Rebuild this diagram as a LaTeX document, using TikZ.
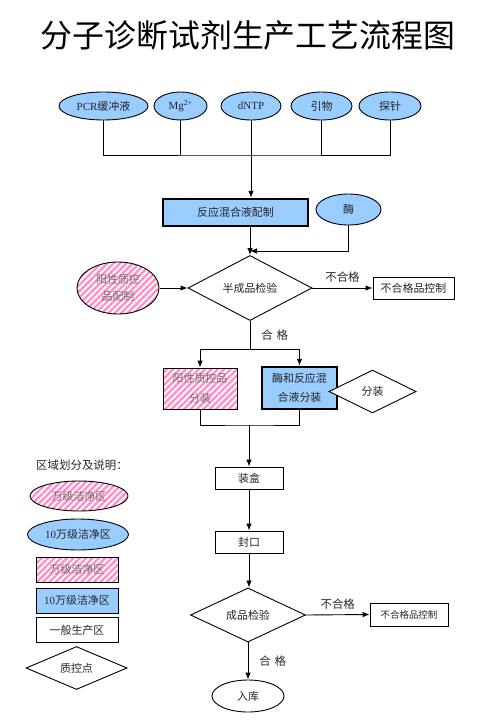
\documentclass[tikz,border=0pt]{standalone}
\usepackage{fontspec}
\setmainfont{Liberation Serif}
\newfontfamily\cjk{Noto Sans CJK SC}
\usetikzlibrary{shapes.geometric,patterns.meta,arrows.meta}

\definecolor{zoneblue}{HTML}{99CCFF}
\definecolor{zonepink}{HTML}{FF8FC8}

\tikzset{
  base/.style={draw, line width=0.9bp, inner sep=0pt, align=center, text=black!85,
    font=\fontsize{11}{15}\selectfont\cjk},
  rawmat/.style={base, ellipse, fill=zoneblue},
  bluebox/.style={base, rectangle, fill=zoneblue, line width=2.4bp},
  pinkfill/.style={pattern={Lines[angle=45,distance=4.5bp,line width=2.4bp]},
    pattern color=zonepink, text=black!55},
  plainbox/.style={base, rectangle, fill=white},
  check/.style={base, diamond, fill=white},
  tag/.style={inner sep=1bp, font=\fontsize{11.5}{13}\selectfont\cjk, text=black!85},
  arr/.style={-{Latex[length=7bp,width=5.5bp]}, line width=0.9bp},
  link/.style={line width=0.9bp}
}

\begin{document}
\begin{tikzpicture}[x=1bp, y=-1bp]
    \useasboundingbox (0,0) rectangle (497,727);

    % Title
    \node[font=\fontsize{32}{36}\selectfont\cjk] (title) at (248,35) {分子诊断试剂生产工艺流程图};

    % Raw materials
    \node[rawmat, minimum width=89bp, minimum height=28bp] (pcr) at (103.5,106) {{\rmfamily PCR}缓冲液};
    \node[rawmat, minimum width=53bp, minimum height=28bp] (mg) at (180.5,106) {\rmfamily Mg\textsuperscript{2+}};
    \node[rawmat, minimum width=60bp, minimum height=28bp] (dntp) at (251,106) {\rmfamily dNTP};
    \node[rawmat, minimum width=61bp, minimum height=28bp] (primer) at (321.5,106) {引物};
    \node[rawmat, minimum width=62bp, minimum height=28bp] (probe) at (390,106) {探针};
    \coordinate (bus) at (252,155);

    % Reaction mix and enzyme
    \node[bluebox, minimum width=145bp, minimum height=27bp] (mix) at (235.5,212.5) {反应混合液配制};
    \node[rawmat, minimum width=65bp, minimum height=31bp] (enz) at (348.5,209.5) {酶};

    % Semi-finished check
    \node[check, minimum width=124bp, minimum height=43bp] (semichk) at (250,288) {半成品检验};
    \coordinate (enzjoin) at (250,251);
    \node[base, ellipse, pinkfill, minimum width=82bp, minimum height=52bp,
      font=\fontsize{11}{17}\selectfont\cjk] (posprep) at (118,288) {阳性质控\\品配制};
    \node[plainbox, minimum width=81bp, minimum height=22bp] (semirej) at (413.5,288) {不合格品控制};

    % Filling
    \coordinate (split) at (250,349);
    \node[base, rectangle, pinkfill, minimum width=74bp, minimum height=41bp,
      font=\fontsize{11}{20}\selectfont\cjk] (posfill) at (200,388.5) {阳性质控品\\分装};
    \node[bluebox, minimum width=75bp, minimum height=42bp,
      font=\fontsize{11}{19}\selectfont\cjk] (mixfill) at (299.5,388) {酶和反应混\\合液分装};
    \node[check, minimum width=87bp, minimum height=43bp] (fillchk) at (372.5,391.5) {分装};
    \coordinate (merge) at (249,425);

    % Packing and final check
    \node[plainbox, minimum width=68bp, minimum height=22bp] (boxing) at (249,478) {装盒};
    \node[plainbox, minimum width=68bp, minimum height=22bp] (sealing) at (249,542) {封口};
    \node[check, minimum width=115bp, minimum height=44bp] (finalchk) at (248,615) {成品检验};
    \node[plainbox, minimum width=78bp, minimum height=23bp,
      font=\fontsize{9.5}{12}\selectfont\cjk] (finalrej) at (409,614.5) {不合格品控制};
    \node[base, ellipse, minimum width=72bp, minimum height=32bp] (store) at (248,696) {入库};

    % Connectors (top)
    \draw[link] (pcr.south) |- (bus) -| (probe.south);
    \draw[link] (mg.south) -- (mg.south |- bus);
    \draw[link] (primer.south) -- (primer.south |- bus);
    \draw[arr] (dntp.south) -- (dntp.south |- mix.north);
    \draw[link] (semichk.north |- mix.south) -- (enzjoin);
    \draw[arr] (enzjoin) -- (semichk.north);
    \draw[arr] (enz.south) |- (enzjoin);
    \draw[arr] (posprep.east) -- (semichk.west);
    \draw[arr] (semichk.east) -- node[tag, above=4bp] {不合格} (semirej.west);
    \draw[link] (semichk.south) -- node[tag, right=10bp] {合\,\,格} (split);
    \draw[arr] (split) -| (posfill.north);
    \draw[arr] (split) -| (mixfill.north);
    \draw[link] (posfill.south) |- (merge) -| (mixfill.south);

    % Connectors (bottom)
    \draw[arr] (merge) -- (boxing.north);
    \draw[arr] (boxing.south) -- (sealing.north);
    \draw[arr] (sealing.south) -- (sealing.south |- finalchk.north);
    \draw[arr] (finalchk.east) -- node[tag, above=4bp] {不合格} (finalrej.west);
    \draw[arr] (finalchk.south) -- node[tag, right=10bp] {合\,\,格} (store.north);

    % Legend
    \node[tag] (legtitle) at (82,465) {区域划分及说明：};
    \node[base, ellipse, pinkfill, minimum width=98bp, minimum height=30bp] (legpinkell) at (79,496) {万级洁净区};
    \node[rawmat, minimum width=101bp, minimum height=31bp] (legblueell) at (78,534.5) {{\rmfamily 10}万级洁净区};
    \node[base, rectangle, pinkfill, minimum width=82bp, minimum height=25bp] (legpinkbox) at (77,569.5) {万级洁净区};
    \node[base, rectangle, fill=zoneblue, minimum width=82bp, minimum height=25bp] (legbluebox) at (77,600.5) {{\rmfamily 10}万级洁净区};
    \node[plainbox, minimum width=82bp, minimum height=25bp] (legplain) at (77,630) {一般生产区};
    \node[check, minimum width=101bp, minimum height=38bp] (legcheck) at (76.5,668) {质控点};
\end{tikzpicture}
\end{document}
